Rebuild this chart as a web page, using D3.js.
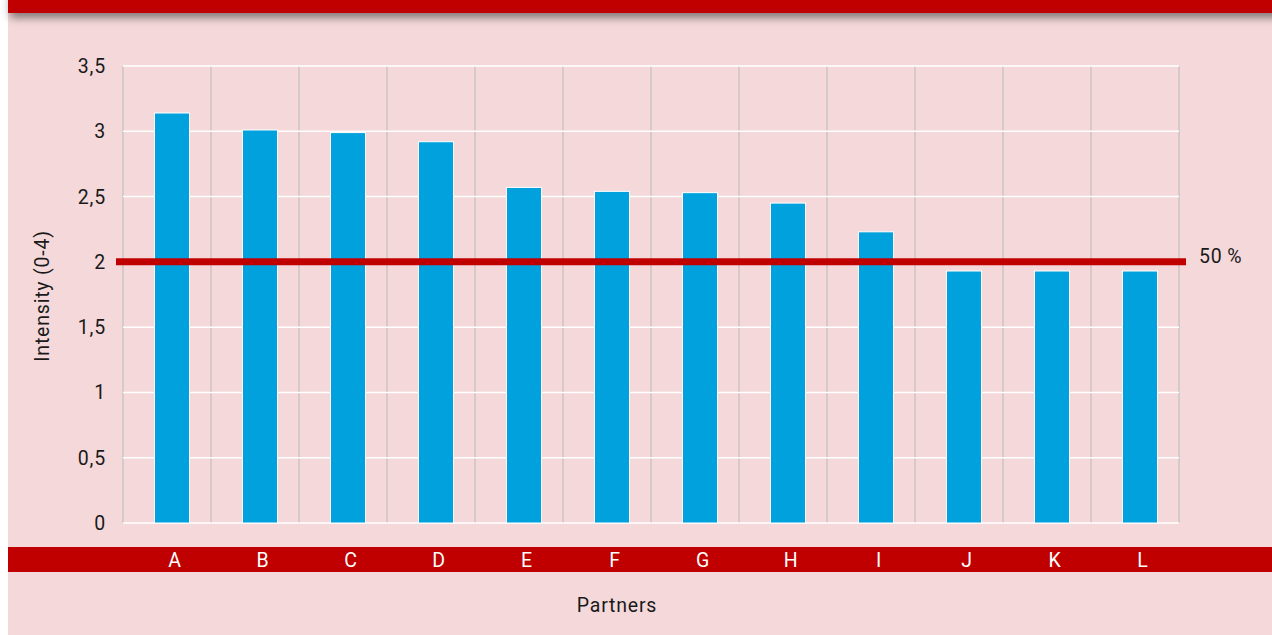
<!DOCTYPE html>
<html>
<head>
<meta charset="utf-8">
<script src="https://cdn.jsdelivr.net/npm/d3@7"></script>
<style>
  body { margin: 0; background: #fff; }
  svg text { font-family: Roboto, "Liberation Sans", sans-serif; fill: #1a1a1a; letter-spacing: 0.8px; }
</style>
</head>
<body>
<script>
// chart data
var partners = ["A", "B", "C", "D", "E", "F", "G", "H", "I", "J", "K", "L"];
var intensity = [3.14, 3.01, 2.99, 2.92, 2.57, 2.54, 2.53, 2.45, 2.23, 1.93, 1.93, 1.93];
var yTicks = [0, 0.5, 1, 1.5, 2, 2.5, 3, 3.5];
var threshold = 2;
var thresholdLabel = "50\u2009%";

var w = 1272, h = 635;
var red = "#c00000", pink = "#f5d9da", blue = "#00a1dc";
var fs = 19.5;

var svg = d3.select("body").append("svg")
  .attr("width", w).attr("height", h);

var defs = svg.append("defs");
var f = defs.append("filter").attr("id", "shadow")
  .attr("x", "-5%").attr("y", "-100%").attr("width", "110%").attr("height", "400%");
f.append("feDropShadow").attr("dx", 2).attr("dy", 5).attr("stdDeviation", 4)
  .attr("flood-color", "#000").attr("flood-opacity", 0.45);

// background
svg.append("rect").attr("x", 8).attr("y", 0).attr("width", w - 8).attr("height", h).attr("fill", pink);
svg.append("rect").attr("x", 8).attr("y", -10).attr("width", w).attr("height", 23)
  .attr("fill", red).attr("filter", "url(#shadow)");

var x = d3.scaleBand().domain(partners).range([123, 1179]);
var y = d3.scaleLinear().domain([0, 3.5]).range([523, 66]);
var barW = 35, barShift = 5;

// vertical grid at band edges
var edges = partners.map(function(p) { return x(p); }).concat([x.range()[1]]);
svg.append("g").selectAll("line").data(edges).enter().append("line")
  .attr("x1", function(d) { return d; }).attr("x2", function(d) { return d; })
  .attr("y1", y(3.5)).attr("y2", y(0))
  .attr("stroke", "#cbc3c4").attr("stroke-width", 1.5);

// horizontal grid
svg.append("g").selectAll("line").data(yTicks).enter().append("line")
  .attr("x1", 123).attr("x2", 1179)
  .attr("y1", function(d) { return y(d); }).attr("y2", function(d) { return y(d); })
  .attr("stroke", "#fff").attr("stroke-width", 1.5);

// y labels
svg.append("g").selectAll("text").data(yTicks).enter().append("text")
  .attr("x", 106).attr("y", function(d) { return y(d); }).attr("dy", "0.36em")
  .attr("text-anchor", "end").attr("font-size", fs)
  .text(function(d) { return String(d).replace(".", ","); });

// bars
svg.append("g").selectAll("rect").data(intensity).enter().append("rect")
  .attr("x", function(d, i) { return x(partners[i]) + (x.bandwidth() - barW) / 2 + barShift; })
  .attr("y", function(d) { return y(d); })
  .attr("width", barW)
  .attr("height", function(d) { return y(0) - y(d); })
  .attr("fill", blue).attr("stroke", "#fff").attr("stroke-width", 1);

// threshold line
svg.append("line")
  .attr("x1", 116).attr("x2", 1186)
  .attr("y1", y(threshold)).attr("y2", y(threshold))
  .attr("stroke", red).attr("stroke-width", 7);
svg.append("text").attr("x", 1199).attr("y", y(threshold) + 1)
  .attr("font-size", fs).text(thresholdLabel);

// category band
svg.append("rect").attr("x", 8).attr("y", 547).attr("width", w - 8).attr("height", 25).attr("fill", red);
svg.append("g").selectAll("text").data(partners).enter().append("text")
  .attr("x", function(d) { return x(d) + x.bandwidth() / 2 + barShift + 3; })
  .attr("y", 560).attr("dy", "0.36em")
  .attr("text-anchor", "middle").attr("font-size", fs)
  .style("fill", "#fff")
  .text(function(d) { return d; });

// axis titles
svg.append("text").attr("x", 617).attr("y", 612)
  .attr("text-anchor", "middle").attr("font-size", fs).text("Partners");
svg.append("text")
  .attr("transform", "translate(49,296) rotate(-90)")
  .attr("text-anchor", "middle").attr("font-size", fs).text("Intensity (0-4)");
</script>
</body>
</html>
